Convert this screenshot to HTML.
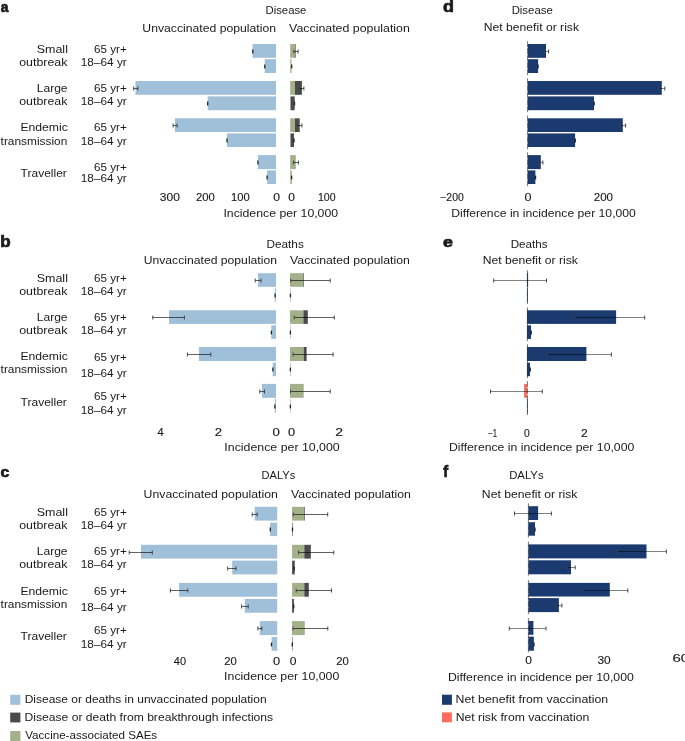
<!DOCTYPE html><html><head><meta charset="utf-8"><style>html,body{margin:0;padding:0;background:#fff;overflow:hidden;}svg{display:block;will-change:transform;}text{font-family:"Liberation Sans",sans-serif;}</style></head><body>
<svg width="685" height="741" viewBox="0 0 685 741">
<rect x="0" y="0" width="685" height="741" fill="#fff"/>
<rect x="10.20" y="694.80" width="10.20" height="10.00" fill="#a0bfd9"/>
<rect x="10.20" y="712.60" width="10.20" height="9.80" fill="#4a4a4a"/>
<rect x="10.20" y="731.00" width="10.20" height="10.00" fill="#a2b18a"/>
<rect x="442.00" y="694.70" width="9.90" height="10.10" fill="#1b3a6f"/>
<rect x="442.00" y="712.40" width="9.90" height="9.90" fill="#ff6b5c"/>
<rect x="252.60" y="44.00" width="23.40" height="13.80" fill="#a0bfd9"/>
<rect x="264.70" y="59.20" width="11.30" height="13.80" fill="#a0bfd9"/>
<rect x="135.50" y="81.00" width="140.50" height="13.80" fill="#a0bfd9"/>
<rect x="207.70" y="96.40" width="68.30" height="13.80" fill="#a0bfd9"/>
<rect x="174.90" y="118.30" width="101.10" height="13.70" fill="#a0bfd9"/>
<rect x="227.00" y="133.40" width="49.00" height="13.60" fill="#a0bfd9"/>
<rect x="257.90" y="155.10" width="18.10" height="14.00" fill="#a0bfd9"/>
<rect x="267.10" y="170.40" width="8.90" height="13.60" fill="#a0bfd9"/>
<rect x="258.00" y="273.20" width="18.00" height="13.60" fill="#a0bfd9"/>
<rect x="274.80" y="288.40" width="1.20" height="13.40" fill="#a0bfd9"/>
<rect x="169.00" y="310.30" width="107.00" height="13.60" fill="#a0bfd9"/>
<rect x="271.30" y="325.30" width="4.70" height="13.60" fill="#a0bfd9"/>
<rect x="198.90" y="347.00" width="77.10" height="14.00" fill="#a0bfd9"/>
<rect x="272.70" y="362.70" width="3.30" height="13.50" fill="#a0bfd9"/>
<rect x="261.90" y="383.90" width="14.10" height="13.90" fill="#a0bfd9"/>
<rect x="274.80" y="399.10" width="1.20" height="13.80" fill="#a0bfd9"/>
<rect x="254.70" y="506.80" width="22.50" height="13.80" fill="#a0bfd9"/>
<rect x="270.10" y="522.60" width="7.10" height="13.50" fill="#a0bfd9"/>
<rect x="141.00" y="544.80" width="136.20" height="13.80" fill="#a0bfd9"/>
<rect x="232.20" y="560.60" width="45.00" height="13.80" fill="#a0bfd9"/>
<rect x="179.10" y="582.90" width="98.10" height="13.80" fill="#a0bfd9"/>
<rect x="244.80" y="598.90" width="32.40" height="13.80" fill="#a0bfd9"/>
<rect x="259.80" y="621.10" width="17.40" height="14.00" fill="#a0bfd9"/>
<rect x="271.60" y="636.90" width="5.60" height="13.90" fill="#a0bfd9"/>
<rect x="290.20" y="44.00" width="5.30" height="13.80" fill="#a2b18a"/>
<rect x="295.50" y="44.00" width="0.50" height="13.80" fill="#4a4a4a"/>
<rect x="290.20" y="59.20" width="1.30" height="13.80" fill="#a2b18a"/>
<rect x="290.20" y="81.00" width="4.80" height="13.80" fill="#a2b18a"/>
<rect x="295.00" y="81.00" width="6.90" height="13.80" fill="#4a4a4a"/>
<rect x="290.20" y="96.40" width="0.40" height="13.80" fill="#a2b18a"/>
<rect x="290.60" y="96.40" width="4.10" height="13.80" fill="#4a4a4a"/>
<rect x="290.20" y="118.30" width="4.70" height="13.70" fill="#a2b18a"/>
<rect x="294.90" y="118.30" width="4.80" height="13.70" fill="#4a4a4a"/>
<rect x="290.20" y="133.40" width="0.40" height="13.60" fill="#a2b18a"/>
<rect x="290.60" y="133.40" width="3.40" height="13.60" fill="#4a4a4a"/>
<rect x="290.20" y="155.10" width="5.60" height="14.00" fill="#a2b18a"/>
<rect x="290.20" y="170.40" width="1.60" height="13.60" fill="#a2b18a"/>
<rect x="290.00" y="273.20" width="13.40" height="13.60" fill="#a2b18a"/>
<rect x="303.40" y="273.20" width="0.60" height="13.60" fill="#4a4a4a"/>
<rect x="290.00" y="288.40" width="0.60" height="13.40" fill="#a2b18a"/>
<rect x="290.00" y="310.30" width="13.40" height="13.60" fill="#a2b18a"/>
<rect x="303.40" y="310.30" width="4.40" height="13.60" fill="#4a4a4a"/>
<rect x="290.00" y="325.30" width="0.60" height="13.60" fill="#a2b18a"/>
<rect x="290.00" y="347.00" width="13.70" height="14.00" fill="#a2b18a"/>
<rect x="303.70" y="347.00" width="2.90" height="14.00" fill="#4a4a4a"/>
<rect x="290.00" y="362.70" width="0.60" height="13.50" fill="#a2b18a"/>
<rect x="290.00" y="383.90" width="13.70" height="13.90" fill="#a2b18a"/>
<rect x="290.00" y="399.10" width="0.60" height="13.80" fill="#a2b18a"/>
<rect x="292.10" y="506.80" width="11.90" height="13.80" fill="#a2b18a"/>
<rect x="304.00" y="506.80" width="0.70" height="13.80" fill="#4a4a4a"/>
<rect x="292.10" y="522.60" width="0.60" height="13.50" fill="#4a4a4a"/>
<rect x="292.10" y="544.80" width="12.20" height="13.80" fill="#a2b18a"/>
<rect x="304.30" y="544.80" width="6.50" height="13.80" fill="#4a4a4a"/>
<rect x="292.10" y="560.60" width="2.60" height="13.80" fill="#4a4a4a"/>
<rect x="292.10" y="582.90" width="12.20" height="13.80" fill="#a2b18a"/>
<rect x="304.30" y="582.90" width="4.50" height="13.80" fill="#4a4a4a"/>
<rect x="292.10" y="598.90" width="1.80" height="13.80" fill="#4a4a4a"/>
<rect x="292.10" y="621.10" width="12.70" height="14.00" fill="#a2b18a"/>
<rect x="292.10" y="636.90" width="0.50" height="13.90" fill="#4a4a4a"/>
<rect x="527.80" y="44.00" width="18.20" height="13.80" fill="#1b3a6f"/>
<rect x="527.80" y="59.20" width="10.30" height="13.80" fill="#1b3a6f"/>
<rect x="527.80" y="81.00" width="134.00" height="13.80" fill="#1b3a6f"/>
<rect x="527.80" y="96.40" width="66.20" height="13.80" fill="#1b3a6f"/>
<rect x="527.80" y="118.30" width="95.00" height="13.70" fill="#1b3a6f"/>
<rect x="527.80" y="133.40" width="47.30" height="13.60" fill="#1b3a6f"/>
<rect x="527.80" y="155.10" width="13.00" height="14.00" fill="#1b3a6f"/>
<rect x="527.80" y="170.40" width="7.60" height="13.60" fill="#1b3a6f"/>
<rect x="527.00" y="273.20" width="1.10" height="13.60" fill="#1b3a6f"/>
<rect x="527.00" y="288.40" width="0.80" height="13.40" fill="#1b3a6f"/>
<rect x="527.00" y="310.30" width="89.10" height="13.60" fill="#1b3a6f"/>
<rect x="527.00" y="325.30" width="4.00" height="13.60" fill="#1b3a6f"/>
<rect x="527.00" y="347.00" width="59.40" height="14.00" fill="#1b3a6f"/>
<rect x="527.00" y="362.70" width="3.00" height="13.50" fill="#1b3a6f"/>
<rect x="524.10" y="383.90" width="2.90" height="13.90" fill="#ff6b5c"/>
<rect x="527.00" y="399.10" width="0.70" height="13.80" fill="#1b3a6f"/>
<rect x="528.40" y="506.20" width="9.70" height="13.80" fill="#1b3a6f"/>
<rect x="528.40" y="522.20" width="6.60" height="13.50" fill="#1b3a6f"/>
<rect x="528.40" y="544.40" width="118.10" height="14.00" fill="#1b3a6f"/>
<rect x="528.40" y="560.30" width="42.60" height="14.00" fill="#1b3a6f"/>
<rect x="528.40" y="582.90" width="81.40" height="13.60" fill="#1b3a6f"/>
<rect x="528.40" y="598.10" width="30.50" height="14.00" fill="#1b3a6f"/>
<rect x="528.40" y="621.00" width="5.00" height="13.80" fill="#1b3a6f"/>
<rect x="528.40" y="636.60" width="5.50" height="14.10" fill="#1b3a6f"/>
<line x1="527.60" y1="41.20" x2="527.60" y2="75.20" stroke="#333" stroke-width="0.7" stroke-dasharray="6 1"/>
<line x1="527.60" y1="78.20" x2="527.60" y2="112.40" stroke="#333" stroke-width="0.7" stroke-dasharray="6 1"/>
<line x1="527.60" y1="115.50" x2="527.60" y2="149.20" stroke="#333" stroke-width="0.7" stroke-dasharray="6 1"/>
<line x1="527.60" y1="152.30" x2="527.60" y2="186.20" stroke="#333" stroke-width="0.7" stroke-dasharray="6 1"/>
<line x1="527.40" y1="270.40" x2="527.40" y2="304.00" stroke="#333" stroke-width="0.7" stroke-dasharray="6 1"/>
<line x1="527.40" y1="307.50" x2="527.40" y2="341.10" stroke="#333" stroke-width="0.7" stroke-dasharray="6 1"/>
<line x1="527.40" y1="344.20" x2="527.40" y2="378.40" stroke="#333" stroke-width="0.7" stroke-dasharray="6 1"/>
<line x1="527.40" y1="381.10" x2="527.40" y2="415.10" stroke="#333" stroke-width="0.7" stroke-dasharray="6 1"/>
<line x1="528.40" y1="503.40" x2="528.40" y2="537.90" stroke="#333" stroke-width="0.7" stroke-dasharray="6 1"/>
<line x1="528.40" y1="541.60" x2="528.40" y2="576.50" stroke="#333" stroke-width="0.7" stroke-dasharray="6 1"/>
<line x1="528.40" y1="580.10" x2="528.40" y2="614.30" stroke="#333" stroke-width="0.7" stroke-dasharray="6 1"/>
<line x1="528.40" y1="618.20" x2="528.40" y2="652.90" stroke="#333" stroke-width="0.7" stroke-dasharray="6 1"/>
<path d="M252.80 49.60V53.40" stroke="#222" stroke-width="1.3" fill="none"/>
<path d="M264.80 64.60V68.40" stroke="#222" stroke-width="1.3" fill="none"/>
<path d="M133.70 88.50H137.90" stroke="#000" stroke-opacity="0.62" stroke-width="1.0" fill="none"/>
<path d="M133.70 86.50V90.50M137.90 86.50V90.50" stroke="#444" stroke-width="1.0" fill="none"/>
<path d="M207.70 101.60V105.40" stroke="#222" stroke-width="1.3" fill="none"/>
<path d="M173.10 125.50H177.10" stroke="#000" stroke-opacity="0.62" stroke-width="1.0" fill="none"/>
<path d="M173.10 123.50V127.50M177.10 123.50V127.50" stroke="#444" stroke-width="1.0" fill="none"/>
<path d="M227.00 138.60V142.40" stroke="#222" stroke-width="1.3" fill="none"/>
<path d="M257.90 160.60V164.40" stroke="#222" stroke-width="1.3" fill="none"/>
<path d="M267.10 175.60V179.40" stroke="#222" stroke-width="1.3" fill="none"/>
<path d="M255.20 280.50H261.00" stroke="#000" stroke-opacity="0.62" stroke-width="1.0" fill="none"/>
<path d="M255.20 278.50V282.50M261.00 278.50V282.50" stroke="#444" stroke-width="1.0" fill="none"/>
<path d="M275.05 293.60V297.40" stroke="#222" stroke-width="1.3" fill="none"/>
<path d="M152.80 317.50H184.40" stroke="#000" stroke-opacity="0.62" stroke-width="1.0" fill="none"/>
<path d="M152.80 315.50V319.50M184.40 315.50V319.50" stroke="#444" stroke-width="1.0" fill="none"/>
<path d="M271.40 330.60V334.40" stroke="#222" stroke-width="1.3" fill="none"/>
<path d="M187.40 354.50H210.80" stroke="#000" stroke-opacity="0.62" stroke-width="1.0" fill="none"/>
<path d="M187.40 352.50V356.50M210.80 352.50V356.50" stroke="#444" stroke-width="1.0" fill="none"/>
<path d="M272.90 367.60V371.40" stroke="#222" stroke-width="1.3" fill="none"/>
<path d="M259.80 391.50H264.50" stroke="#000" stroke-opacity="0.62" stroke-width="1.0" fill="none"/>
<path d="M259.80 389.50V393.50M264.50 389.50V393.50" stroke="#444" stroke-width="1.0" fill="none"/>
<path d="M274.90 404.60V408.40" stroke="#222" stroke-width="1.3" fill="none"/>
<path d="M252.20 514.50H257.20" stroke="#000" stroke-opacity="0.62" stroke-width="1.0" fill="none"/>
<path d="M252.20 512.50V516.50M257.20 512.50V516.50" stroke="#444" stroke-width="1.0" fill="none"/>
<path d="M270.30 527.60V531.40" stroke="#222" stroke-width="1.3" fill="none"/>
<path d="M129.20 552.50H152.30" stroke="#000" stroke-opacity="0.62" stroke-width="1.0" fill="none"/>
<path d="M129.20 550.50V554.50M152.30 550.50V554.50" stroke="#444" stroke-width="1.0" fill="none"/>
<path d="M227.70 568.50H236.10" stroke="#000" stroke-opacity="0.62" stroke-width="1.0" fill="none"/>
<path d="M227.70 566.50V570.50M236.10 566.50V570.50" stroke="#444" stroke-width="1.0" fill="none"/>
<path d="M170.40 590.50H187.80" stroke="#000" stroke-opacity="0.62" stroke-width="1.0" fill="none"/>
<path d="M170.40 588.50V592.50M187.80 588.50V592.50" stroke="#444" stroke-width="1.0" fill="none"/>
<path d="M241.60 606.50H248.20" stroke="#000" stroke-opacity="0.62" stroke-width="1.0" fill="none"/>
<path d="M241.60 604.50V608.50M248.20 604.50V608.50" stroke="#444" stroke-width="1.0" fill="none"/>
<path d="M257.90 628.50H261.90" stroke="#000" stroke-opacity="0.62" stroke-width="1.0" fill="none"/>
<path d="M257.90 626.50V630.50M261.90 626.50V630.50" stroke="#444" stroke-width="1.0" fill="none"/>
<path d="M271.50 642.60V646.40" stroke="#222" stroke-width="1.3" fill="none"/>
<path d="M293.90 51.50H298.10" stroke="#000" stroke-opacity="0.62" stroke-width="1.0" fill="none"/>
<path d="M293.90 49.50V53.50M298.10 49.50V53.50" stroke="#444" stroke-width="1.0" fill="none"/>
<path d="M291.65 64.60V68.40" stroke="#222" stroke-width="1.3" fill="none"/>
<path d="M299.30 88.50H303.90" stroke="#000" stroke-opacity="0.62" stroke-width="1.0" fill="none"/>
<path d="M299.30 86.50V90.50M303.90 86.50V90.50" stroke="#444" stroke-width="1.0" fill="none"/>
<path d="M294.50 101.60V105.40" stroke="#222" stroke-width="1.3" fill="none"/>
<path d="M297.00 125.50H301.90" stroke="#000" stroke-opacity="0.62" stroke-width="1.0" fill="none"/>
<path d="M297.00 123.50V127.50M301.90 123.50V127.50" stroke="#444" stroke-width="1.0" fill="none"/>
<path d="M294.00 138.60V142.40" stroke="#222" stroke-width="1.3" fill="none"/>
<path d="M293.60 162.50H298.40" stroke="#000" stroke-opacity="0.62" stroke-width="1.0" fill="none"/>
<path d="M293.60 160.50V164.50M298.40 160.50V164.50" stroke="#444" stroke-width="1.0" fill="none"/>
<path d="M291.60 175.60V179.40" stroke="#222" stroke-width="1.3" fill="none"/>
<path d="M290.70 280.50H330.20" stroke="#000" stroke-opacity="0.62" stroke-width="1.0" fill="none"/>
<path d="M290.70 278.50V282.50M330.20 278.50V282.50" stroke="#444" stroke-width="1.0" fill="none"/>
<path d="M290.40 293.60V297.40" stroke="#222" stroke-width="1.3" fill="none"/>
<path d="M294.20 317.50H334.30" stroke="#000" stroke-opacity="0.62" stroke-width="1.0" fill="none"/>
<path d="M294.20 315.50V319.50M334.30 315.50V319.50" stroke="#444" stroke-width="1.0" fill="none"/>
<path d="M290.40 330.60V334.40" stroke="#222" stroke-width="1.3" fill="none"/>
<path d="M293.10 354.50H333.10" stroke="#000" stroke-opacity="0.62" stroke-width="1.0" fill="none"/>
<path d="M293.10 352.50V356.50M333.10 352.50V356.50" stroke="#444" stroke-width="1.0" fill="none"/>
<path d="M290.40 367.60V371.40" stroke="#222" stroke-width="1.3" fill="none"/>
<path d="M290.50 391.50H330.20" stroke="#000" stroke-opacity="0.62" stroke-width="1.0" fill="none"/>
<path d="M290.50 389.50V393.50M330.20 389.50V393.50" stroke="#444" stroke-width="1.0" fill="none"/>
<path d="M290.40 404.60V408.40" stroke="#222" stroke-width="1.3" fill="none"/>
<path d="M293.20 514.50H327.70" stroke="#000" stroke-opacity="0.62" stroke-width="1.0" fill="none"/>
<path d="M293.20 512.50V516.50M327.70 512.50V516.50" stroke="#444" stroke-width="1.0" fill="none"/>
<path d="M292.50 527.60V531.40" stroke="#222" stroke-width="1.3" fill="none"/>
<path d="M298.60 552.50H333.80" stroke="#000" stroke-opacity="0.62" stroke-width="1.0" fill="none"/>
<path d="M298.60 550.50V554.50M333.80 550.50V554.50" stroke="#444" stroke-width="1.0" fill="none"/>
<path d="M294.25 566.60V570.40" stroke="#222" stroke-width="1.3" fill="none"/>
<path d="M296.20 590.50H331.50" stroke="#000" stroke-opacity="0.62" stroke-width="1.0" fill="none"/>
<path d="M296.20 588.50V592.50M331.50 588.50V592.50" stroke="#444" stroke-width="1.0" fill="none"/>
<path d="M293.75 604.60V608.40" stroke="#222" stroke-width="1.3" fill="none"/>
<path d="M293.00 628.50H327.80" stroke="#000" stroke-opacity="0.62" stroke-width="1.0" fill="none"/>
<path d="M293.00 626.50V630.50M327.80 626.50V630.50" stroke="#444" stroke-width="1.0" fill="none"/>
<path d="M292.30 642.60V646.40" stroke="#222" stroke-width="1.3" fill="none"/>
<path d="M544.20 51.50H548.60" stroke="#000" stroke-opacity="0.62" stroke-width="0.8" fill="none"/>
<path d="M544.20 49.50V53.50M548.60 49.50V53.50" stroke="#444" stroke-width="1.0" fill="none"/>
<path d="M538.00 64.60V68.40" stroke="#222" stroke-width="1.3" fill="none"/>
<path d="M659.20 88.50H664.80" stroke="#000" stroke-opacity="0.62" stroke-width="0.8" fill="none"/>
<path d="M659.20 86.50V90.50M664.80 86.50V90.50" stroke="#444" stroke-width="1.0" fill="none"/>
<path d="M594.15 101.60V105.40" stroke="#222" stroke-width="1.3" fill="none"/>
<path d="M620.00 125.50H625.60" stroke="#000" stroke-opacity="0.62" stroke-width="0.8" fill="none"/>
<path d="M620.00 123.50V127.50M625.60 123.50V127.50" stroke="#444" stroke-width="1.0" fill="none"/>
<path d="M575.25 138.60V142.40" stroke="#222" stroke-width="1.3" fill="none"/>
<path d="M538.70 162.50H542.90" stroke="#000" stroke-opacity="0.62" stroke-width="0.8" fill="none"/>
<path d="M538.70 160.50V164.50M542.90 160.50V164.50" stroke="#444" stroke-width="1.0" fill="none"/>
<path d="M535.55 175.60V179.40" stroke="#222" stroke-width="1.3" fill="none"/>
<path d="M493.70 280.50H546.50" stroke="#000" stroke-opacity="0.62" stroke-width="0.8" fill="none"/>
<path d="M493.70 278.50V282.50M546.50 278.50V282.50" stroke="#444" stroke-width="1.0" fill="none"/>
<path d="M574.10 317.50H644.70" stroke="#000" stroke-opacity="0.62" stroke-width="0.8" fill="none"/>
<path d="M574.10 315.50V319.50M644.70 315.50V319.50" stroke="#444" stroke-width="1.0" fill="none"/>
<path d="M531.25 330.60V334.40" stroke="#222" stroke-width="1.3" fill="none"/>
<path d="M547.30 354.50H611.40" stroke="#000" stroke-opacity="0.62" stroke-width="0.8" fill="none"/>
<path d="M547.30 352.50V356.50M611.40 352.50V356.50" stroke="#444" stroke-width="1.0" fill="none"/>
<path d="M530.25 367.60V371.40" stroke="#222" stroke-width="1.3" fill="none"/>
<path d="M490.50 391.50H542.30" stroke="#000" stroke-opacity="0.62" stroke-width="0.8" fill="none"/>
<path d="M490.50 389.50V393.50M542.30 389.50V393.50" stroke="#444" stroke-width="1.0" fill="none"/>
<path d="M514.50 513.50H551.40" stroke="#000" stroke-opacity="0.62" stroke-width="0.8" fill="none"/>
<path d="M514.50 511.50V515.50M551.40 511.50V515.50" stroke="#444" stroke-width="1.0" fill="none"/>
<path d="M535.00 527.60V531.40" stroke="#222" stroke-width="1.3" fill="none"/>
<path d="M617.30 551.50H666.40" stroke="#000" stroke-opacity="0.62" stroke-width="0.8" fill="none"/>
<path d="M617.30 549.50V553.50M666.40 549.50V553.50" stroke="#444" stroke-width="1.0" fill="none"/>
<path d="M567.30 567.50H575.20" stroke="#000" stroke-opacity="0.62" stroke-width="0.8" fill="none"/>
<path d="M567.30 565.50V569.50M575.20 565.50V569.50" stroke="#444" stroke-width="1.0" fill="none"/>
<path d="M582.20 590.50H627.80" stroke="#000" stroke-opacity="0.62" stroke-width="0.8" fill="none"/>
<path d="M582.20 588.50V592.50M627.80 588.50V592.50" stroke="#444" stroke-width="1.0" fill="none"/>
<path d="M556.00 605.50H561.90" stroke="#000" stroke-opacity="0.62" stroke-width="0.8" fill="none"/>
<path d="M556.00 603.50V607.50M561.90 603.50V607.50" stroke="#444" stroke-width="1.0" fill="none"/>
<path d="M509.30 628.50H546.00" stroke="#000" stroke-opacity="0.62" stroke-width="0.8" fill="none"/>
<path d="M509.30 626.50V630.50M546.00 626.50V630.50" stroke="#444" stroke-width="1.0" fill="none"/>
<path d="M534.00 642.60V646.40" stroke="#222" stroke-width="1.3" fill="none"/>
<text id="t0" x="0.87" y="11.80" font-size="14.80" font-weight="bold" fill="#1a1a1a" stroke="#1a1a1a" stroke-width="0.7" textLength="7.66" lengthAdjust="spacingAndGlyphs">a</text>
<text id="t1" x="0.18" y="246.50" font-size="16.00" font-weight="bold" fill="#1a1a1a" stroke="#1a1a1a" stroke-width="0.7" textLength="10.36" lengthAdjust="spacingAndGlyphs">b</text>
<text id="t2" x="0.60" y="477.30" font-size="14.80" font-weight="bold" fill="#1a1a1a" stroke="#1a1a1a" stroke-width="0.7" textLength="8.75" lengthAdjust="spacingAndGlyphs">c</text>
<text id="t3" x="442.98" y="12.30" font-size="16.00" font-weight="bold" fill="#1a1a1a" stroke="#1a1a1a" stroke-width="0.7" textLength="10.97" lengthAdjust="spacingAndGlyphs">d</text>
<text id="t4" x="443.05" y="246.70" font-size="14.80" font-weight="bold" fill="#1a1a1a" stroke="#1a1a1a" stroke-width="0.7" textLength="9.92" lengthAdjust="spacingAndGlyphs">e</text>
<text id="t5" x="443.35" y="477.40" font-size="16.00" font-weight="bold" fill="#1a1a1a" stroke="#1a1a1a" stroke-width="0.7" textLength="4.89" lengthAdjust="spacingAndGlyphs">f</text>
<text id="t6" x="265.46" y="13.60" font-size="11.30" font-weight="normal" fill="#1a1a1a" textLength="40.98" lengthAdjust="spacingAndGlyphs">Disease</text>
<text id="t7" x="266.56" y="247.90" font-size="11.30" font-weight="normal" fill="#1a1a1a" textLength="37.22" lengthAdjust="spacingAndGlyphs">Deaths</text>
<text id="t8" x="261.58" y="478.80" font-size="11.30" font-weight="normal" fill="#1a1a1a" textLength="33.62" lengthAdjust="spacingAndGlyphs">DALYs</text>
<text id="t9" x="511.63" y="13.70" font-size="11.30" font-weight="normal" fill="#1a1a1a" textLength="41.11" lengthAdjust="spacingAndGlyphs">Disease</text>
<text id="t10" x="510.66" y="247.80" font-size="11.30" font-weight="normal" fill="#1a1a1a" textLength="36.82" lengthAdjust="spacingAndGlyphs">Deaths</text>
<text id="t11" x="509.17" y="479.00" font-size="11.30" font-weight="normal" fill="#1a1a1a" textLength="34.43" lengthAdjust="spacingAndGlyphs">DALYs</text>
<text id="t12" x="483.73" y="31.10" font-size="11.30" font-weight="normal" fill="#1a1a1a" textLength="95.27" lengthAdjust="spacingAndGlyphs">Net benefit or risk</text>
<text id="t13" x="482.65" y="264.00" font-size="11.30" font-weight="normal" fill="#1a1a1a" textLength="95.29" lengthAdjust="spacingAndGlyphs">Net benefit or risk</text>
<text id="t14" x="481.88" y="498.00" font-size="11.30" font-weight="normal" fill="#1a1a1a" textLength="95.60" lengthAdjust="spacingAndGlyphs">Net benefit or risk</text>
<text id="t15" x="142.33" y="31.60" font-size="11.30" font-weight="normal" fill="#1a1a1a" textLength="133.69" lengthAdjust="spacingAndGlyphs">Unvaccinated population</text>
<text id="t16" x="289.09" y="31.60" font-size="11.30" font-weight="normal" fill="#1a1a1a" textLength="120.77" lengthAdjust="spacingAndGlyphs">Vaccinated population</text>
<text id="t17" x="143.69" y="264.30" font-size="11.30" font-weight="normal" fill="#1a1a1a" textLength="133.31" lengthAdjust="spacingAndGlyphs">Unvaccinated population</text>
<text id="t18" x="290.05" y="264.30" font-size="11.30" font-weight="normal" fill="#1a1a1a" textLength="119.84" lengthAdjust="spacingAndGlyphs">Vaccinated population</text>
<text id="t19" x="143.63" y="498.10" font-size="11.30" font-weight="normal" fill="#1a1a1a" textLength="134.22" lengthAdjust="spacingAndGlyphs">Unvaccinated population</text>
<text id="t20" x="291.05" y="498.20" font-size="11.30" font-weight="normal" fill="#1a1a1a" textLength="119.84" lengthAdjust="spacingAndGlyphs">Vaccinated population</text>
<text id="t21" x="36.73" y="52.90" font-size="11.30" font-weight="normal" fill="#1a1a1a" textLength="31.20" lengthAdjust="spacingAndGlyphs">Small</text>
<text id="t22" x="19.19" y="66.00" font-size="11.30" font-weight="normal" fill="#1a1a1a" textLength="48.24" lengthAdjust="spacingAndGlyphs">outbreak</text>
<text id="t23" x="36.75" y="92.00" font-size="11.30" font-weight="normal" fill="#1a1a1a" textLength="30.83" lengthAdjust="spacingAndGlyphs">Large</text>
<text id="t24" x="19.19" y="105.20" font-size="11.30" font-weight="normal" fill="#1a1a1a" textLength="48.24" lengthAdjust="spacingAndGlyphs">outbreak</text>
<text id="t25" x="20.40" y="130.80" font-size="11.30" font-weight="normal" fill="#1a1a1a" textLength="47.35" lengthAdjust="spacingAndGlyphs">Endemic</text>
<text id="t26" x="0.58" y="144.50" font-size="11.30" font-weight="normal" fill="#1a1a1a" textLength="66.69" lengthAdjust="spacingAndGlyphs">transmission</text>
<text id="t27" x="20.64" y="176.80" font-size="11.30" font-weight="normal" fill="#1a1a1a" textLength="46.23" lengthAdjust="spacingAndGlyphs">Traveller</text>
<text id="t28" x="94.01" y="52.90" font-size="11.30" font-weight="normal" fill="#1a1a1a" textLength="32.81" lengthAdjust="spacingAndGlyphs">65 yr+</text>
<text id="t29" x="80.81" y="66.00" font-size="11.30" font-weight="normal" fill="#1a1a1a" textLength="45.94" lengthAdjust="spacingAndGlyphs">18–64 yr</text>
<text id="t30" x="94.01" y="92.00" font-size="11.30" font-weight="normal" fill="#1a1a1a" textLength="32.81" lengthAdjust="spacingAndGlyphs">65 yr+</text>
<text id="t31" x="80.81" y="105.20" font-size="11.30" font-weight="normal" fill="#1a1a1a" textLength="45.94" lengthAdjust="spacingAndGlyphs">18–64 yr</text>
<text id="t32" x="94.01" y="130.80" font-size="11.30" font-weight="normal" fill="#1a1a1a" textLength="32.81" lengthAdjust="spacingAndGlyphs">65 yr+</text>
<text id="t33" x="80.81" y="144.50" font-size="11.30" font-weight="normal" fill="#1a1a1a" textLength="45.94" lengthAdjust="spacingAndGlyphs">18–64 yr</text>
<text id="t34" x="94.01" y="171.00" font-size="11.30" font-weight="normal" fill="#1a1a1a" textLength="32.81" lengthAdjust="spacingAndGlyphs">65 yr+</text>
<text id="t35" x="80.81" y="181.70" font-size="11.30" font-weight="normal" fill="#1a1a1a" textLength="45.94" lengthAdjust="spacingAndGlyphs">18–64 yr</text>
<text id="t36" x="36.73" y="281.60" font-size="11.30" font-weight="normal" fill="#1a1a1a" textLength="31.20" lengthAdjust="spacingAndGlyphs">Small</text>
<text id="t37" x="19.19" y="294.50" font-size="11.30" font-weight="normal" fill="#1a1a1a" textLength="48.24" lengthAdjust="spacingAndGlyphs">outbreak</text>
<text id="t38" x="36.75" y="320.50" font-size="11.30" font-weight="normal" fill="#1a1a1a" textLength="30.83" lengthAdjust="spacingAndGlyphs">Large</text>
<text id="t39" x="19.19" y="333.90" font-size="11.30" font-weight="normal" fill="#1a1a1a" textLength="48.24" lengthAdjust="spacingAndGlyphs">outbreak</text>
<text id="t40" x="20.40" y="359.80" font-size="11.30" font-weight="normal" fill="#1a1a1a" textLength="47.35" lengthAdjust="spacingAndGlyphs">Endemic</text>
<text id="t41" x="0.58" y="373.00" font-size="11.30" font-weight="normal" fill="#1a1a1a" textLength="66.69" lengthAdjust="spacingAndGlyphs">transmission</text>
<text id="t42" x="20.64" y="405.60" font-size="11.30" font-weight="normal" fill="#1a1a1a" textLength="46.23" lengthAdjust="spacingAndGlyphs">Traveller</text>
<text id="t43" x="94.01" y="281.60" font-size="11.30" font-weight="normal" fill="#1a1a1a" textLength="32.81" lengthAdjust="spacingAndGlyphs">65 yr+</text>
<text id="t44" x="80.81" y="294.50" font-size="11.30" font-weight="normal" fill="#1a1a1a" textLength="45.94" lengthAdjust="spacingAndGlyphs">18–64 yr</text>
<text id="t45" x="94.01" y="320.60" font-size="11.30" font-weight="normal" fill="#1a1a1a" textLength="32.81" lengthAdjust="spacingAndGlyphs">65 yr+</text>
<text id="t46" x="80.81" y="333.90" font-size="11.30" font-weight="normal" fill="#1a1a1a" textLength="45.94" lengthAdjust="spacingAndGlyphs">18–64 yr</text>
<text id="t47" x="94.01" y="361.40" font-size="11.30" font-weight="normal" fill="#1a1a1a" textLength="32.81" lengthAdjust="spacingAndGlyphs">65 yr+</text>
<text id="t48" x="80.81" y="376.60" font-size="11.30" font-weight="normal" fill="#1a1a1a" textLength="45.94" lengthAdjust="spacingAndGlyphs">18–64 yr</text>
<text id="t49" x="94.01" y="400.30" font-size="11.30" font-weight="normal" fill="#1a1a1a" textLength="32.81" lengthAdjust="spacingAndGlyphs">65 yr+</text>
<text id="t50" x="80.81" y="413.60" font-size="11.30" font-weight="normal" fill="#1a1a1a" textLength="45.94" lengthAdjust="spacingAndGlyphs">18–64 yr</text>
<text id="t51" x="36.73" y="515.90" font-size="11.30" font-weight="normal" fill="#1a1a1a" textLength="31.20" lengthAdjust="spacingAndGlyphs">Small</text>
<text id="t52" x="19.19" y="529.00" font-size="11.30" font-weight="normal" fill="#1a1a1a" textLength="48.24" lengthAdjust="spacingAndGlyphs">outbreak</text>
<text id="t53" x="36.75" y="555.10" font-size="11.30" font-weight="normal" fill="#1a1a1a" textLength="30.83" lengthAdjust="spacingAndGlyphs">Large</text>
<text id="t54" x="19.19" y="568.40" font-size="11.30" font-weight="normal" fill="#1a1a1a" textLength="48.24" lengthAdjust="spacingAndGlyphs">outbreak</text>
<text id="t55" x="20.40" y="594.50" font-size="11.30" font-weight="normal" fill="#1a1a1a" textLength="47.35" lengthAdjust="spacingAndGlyphs">Endemic</text>
<text id="t56" x="0.58" y="607.80" font-size="11.30" font-weight="normal" fill="#1a1a1a" textLength="66.69" lengthAdjust="spacingAndGlyphs">transmission</text>
<text id="t57" x="20.64" y="640.10" font-size="11.30" font-weight="normal" fill="#1a1a1a" textLength="46.23" lengthAdjust="spacingAndGlyphs">Traveller</text>
<text id="t58" x="94.01" y="515.90" font-size="11.30" font-weight="normal" fill="#1a1a1a" textLength="32.81" lengthAdjust="spacingAndGlyphs">65 yr+</text>
<text id="t59" x="80.81" y="529.00" font-size="11.30" font-weight="normal" fill="#1a1a1a" textLength="45.94" lengthAdjust="spacingAndGlyphs">18–64 yr</text>
<text id="t60" x="94.01" y="555.10" font-size="11.30" font-weight="normal" fill="#1a1a1a" textLength="32.81" lengthAdjust="spacingAndGlyphs">65 yr+</text>
<text id="t61" x="80.81" y="568.40" font-size="11.30" font-weight="normal" fill="#1a1a1a" textLength="45.94" lengthAdjust="spacingAndGlyphs">18–64 yr</text>
<text id="t62" x="94.01" y="595.40" font-size="11.30" font-weight="normal" fill="#1a1a1a" textLength="32.81" lengthAdjust="spacingAndGlyphs">65 yr+</text>
<text id="t63" x="80.81" y="610.70" font-size="11.30" font-weight="normal" fill="#1a1a1a" textLength="45.94" lengthAdjust="spacingAndGlyphs">18–64 yr</text>
<text id="t64" x="94.01" y="634.40" font-size="11.30" font-weight="normal" fill="#1a1a1a" textLength="32.81" lengthAdjust="spacingAndGlyphs">65 yr+</text>
<text id="t65" x="80.81" y="647.80" font-size="11.30" font-weight="normal" fill="#1a1a1a" textLength="45.94" lengthAdjust="spacingAndGlyphs">18–64 yr</text>
<text id="t66" x="159.81" y="200.50" font-size="10.20" font-weight="normal" fill="#1a1a1a" stroke="#1a1a1a" stroke-width="0.12" textLength="20.07" lengthAdjust="spacingAndGlyphs">300</text>
<text id="t67" x="196.03" y="200.50" font-size="10.20" font-weight="normal" fill="#1a1a1a" stroke="#1a1a1a" stroke-width="0.12" textLength="18.89" lengthAdjust="spacingAndGlyphs">200</text>
<text id="t68" x="231.10" y="200.50" font-size="10.20" font-weight="normal" fill="#1a1a1a" stroke="#1a1a1a" stroke-width="0.12" textLength="18.67" lengthAdjust="spacingAndGlyphs">100</text>
<text id="t69" x="273.16" y="200.50" font-size="10.20" font-weight="normal" fill="#1a1a1a" stroke="#1a1a1a" stroke-width="0.12" textLength="6.80" lengthAdjust="spacingAndGlyphs">0</text>
<text id="t70" x="288.37" y="200.50" font-size="10.20" font-weight="normal" fill="#1a1a1a" stroke="#1a1a1a" stroke-width="0.12" textLength="6.70" lengthAdjust="spacingAndGlyphs">0</text>
<text id="t71" x="317.99" y="200.50" font-size="10.20" font-weight="normal" fill="#1a1a1a" stroke="#1a1a1a" stroke-width="0.12" textLength="17.64" lengthAdjust="spacingAndGlyphs">100</text>
<text id="t72" x="440.27" y="200.60" font-size="10.20" font-weight="normal" fill="#1a1a1a" stroke="#1a1a1a" stroke-width="0.12" textLength="23.44" lengthAdjust="spacingAndGlyphs">−200</text>
<text id="t73" x="524.53" y="200.60" font-size="10.20" font-weight="normal" fill="#1a1a1a" stroke="#1a1a1a" stroke-width="0.12" textLength="7.00" lengthAdjust="spacingAndGlyphs">0</text>
<text id="t74" x="593.79" y="200.60" font-size="10.20" font-weight="normal" fill="#1a1a1a" stroke="#1a1a1a" stroke-width="0.12" textLength="19.21" lengthAdjust="spacingAndGlyphs">200</text>
<text id="t75" x="157.61" y="435.70" font-size="10.20" font-weight="normal" fill="#1a1a1a" stroke="#1a1a1a" stroke-width="0.12" textLength="6.15" lengthAdjust="spacingAndGlyphs">4</text>
<text id="t76" x="214.84" y="435.70" font-size="10.20" font-weight="normal" fill="#1a1a1a" stroke="#1a1a1a" stroke-width="0.12" textLength="7.35" lengthAdjust="spacingAndGlyphs">2</text>
<text id="t77" x="272.50" y="435.70" font-size="10.20" font-weight="normal" fill="#1a1a1a" stroke="#1a1a1a" stroke-width="0.12" textLength="7.36" lengthAdjust="spacingAndGlyphs">0</text>
<text id="t78" x="288.08" y="435.70" font-size="10.20" font-weight="normal" fill="#1a1a1a" stroke="#1a1a1a" stroke-width="0.12" textLength="7.18" lengthAdjust="spacingAndGlyphs">0</text>
<text id="t79" x="335.22" y="435.70" font-size="10.20" font-weight="normal" fill="#1a1a1a" stroke="#1a1a1a" stroke-width="0.12" textLength="7.74" lengthAdjust="spacingAndGlyphs">2</text>
<text id="t80" x="488.23" y="437.10" font-size="10.20" font-weight="normal" fill="#1a1a1a" stroke="#1a1a1a" stroke-width="0.12" textLength="8.88" lengthAdjust="spacingAndGlyphs">−1</text>
<text id="t81" x="524.13" y="437.10" font-size="10.20" font-weight="normal" fill="#1a1a1a" stroke="#1a1a1a" stroke-width="0.12" textLength="5.77" lengthAdjust="spacingAndGlyphs">0</text>
<text id="t82" x="580.94" y="437.10" font-size="10.20" font-weight="normal" fill="#1a1a1a" stroke="#1a1a1a" stroke-width="0.12" textLength="6.67" lengthAdjust="spacingAndGlyphs">2</text>
<text id="t83" x="173.80" y="664.60" font-size="10.20" font-weight="normal" fill="#1a1a1a" stroke="#1a1a1a" stroke-width="0.12" textLength="12.22" lengthAdjust="spacingAndGlyphs">40</text>
<text id="t84" x="224.28" y="664.60" font-size="10.20" font-weight="normal" fill="#1a1a1a" stroke="#1a1a1a" stroke-width="0.12" textLength="12.57" lengthAdjust="spacingAndGlyphs">20</text>
<text id="t85" x="272.91" y="664.60" font-size="10.20" font-weight="normal" fill="#1a1a1a" stroke="#1a1a1a" stroke-width="0.12" textLength="7.13" lengthAdjust="spacingAndGlyphs">0</text>
<text id="t86" x="289.83" y="664.60" font-size="10.20" font-weight="normal" fill="#1a1a1a" stroke="#1a1a1a" stroke-width="0.12" textLength="6.73" lengthAdjust="spacingAndGlyphs">0</text>
<text id="t87" x="336.16" y="664.60" font-size="10.20" font-weight="normal" fill="#1a1a1a" stroke="#1a1a1a" stroke-width="0.12" textLength="12.57" lengthAdjust="spacingAndGlyphs">20</text>
<text id="t88" x="525.31" y="664.40" font-size="10.20" font-weight="normal" fill="#1a1a1a" stroke="#1a1a1a" stroke-width="0.12" textLength="6.70" lengthAdjust="spacingAndGlyphs">0</text>
<text id="t89" x="597.48" y="664.40" font-size="10.20" font-weight="normal" fill="#1a1a1a" stroke="#1a1a1a" stroke-width="0.12" textLength="13.20" lengthAdjust="spacingAndGlyphs">30</text>
<text id="t90" x="672.40" y="662.40" font-size="10.20" font-weight="normal" fill="#1a1a1a" stroke="#1a1a1a" stroke-width="0.12" textLength="16.65" lengthAdjust="spacingAndGlyphs">60</text>
<text id="t91" x="223.44" y="216.90" font-size="11.30" font-weight="normal" fill="#1a1a1a" textLength="114.68" lengthAdjust="spacingAndGlyphs">Incidence per 10,000</text>
<text id="t92" x="451.23" y="216.80" font-size="11.30" font-weight="normal" fill="#1a1a1a" textLength="184.63" lengthAdjust="spacingAndGlyphs">Difference in incidence per 10,000</text>
<text id="t93" x="224.37" y="450.80" font-size="11.30" font-weight="normal" fill="#1a1a1a" textLength="115.39" lengthAdjust="spacingAndGlyphs">Incidence per 10,000</text>
<text id="t94" x="448.92" y="450.80" font-size="11.30" font-weight="normal" fill="#1a1a1a" textLength="185.33" lengthAdjust="spacingAndGlyphs">Difference in incidence per 10,000</text>
<text id="t95" x="224.13" y="680.20" font-size="11.30" font-weight="normal" fill="#1a1a1a" textLength="115.17" lengthAdjust="spacingAndGlyphs">Incidence per 10,000</text>
<text id="t96" x="447.91" y="681.00" font-size="11.30" font-weight="normal" fill="#1a1a1a" textLength="185.88" lengthAdjust="spacingAndGlyphs">Difference in incidence per 10,000</text>
<text id="t97" x="24.67" y="703.00" font-size="11.30" font-weight="normal" fill="#1a1a1a" textLength="241.94" lengthAdjust="spacingAndGlyphs">Disease or deaths in unvaccinated population</text>
<text id="t98" x="24.50" y="720.80" font-size="11.30" font-weight="normal" fill="#1a1a1a" textLength="248.66" lengthAdjust="spacingAndGlyphs">Disease or death from breakthrough infections</text>
<text id="t99" x="25.21" y="738.50" font-size="11.30" font-weight="normal" fill="#1a1a1a" textLength="131.97" lengthAdjust="spacingAndGlyphs">Vaccine-associated SAEs</text>
<text id="t100" x="455.53" y="702.50" font-size="11.30" font-weight="normal" fill="#1a1a1a" textLength="152.58" lengthAdjust="spacingAndGlyphs">Net benefit from vaccination</text>
<text id="t101" x="455.73" y="720.60" font-size="11.30" font-weight="normal" fill="#1a1a1a" textLength="133.52" lengthAdjust="spacingAndGlyphs">Net risk from vaccination</text>
</svg></body></html>
